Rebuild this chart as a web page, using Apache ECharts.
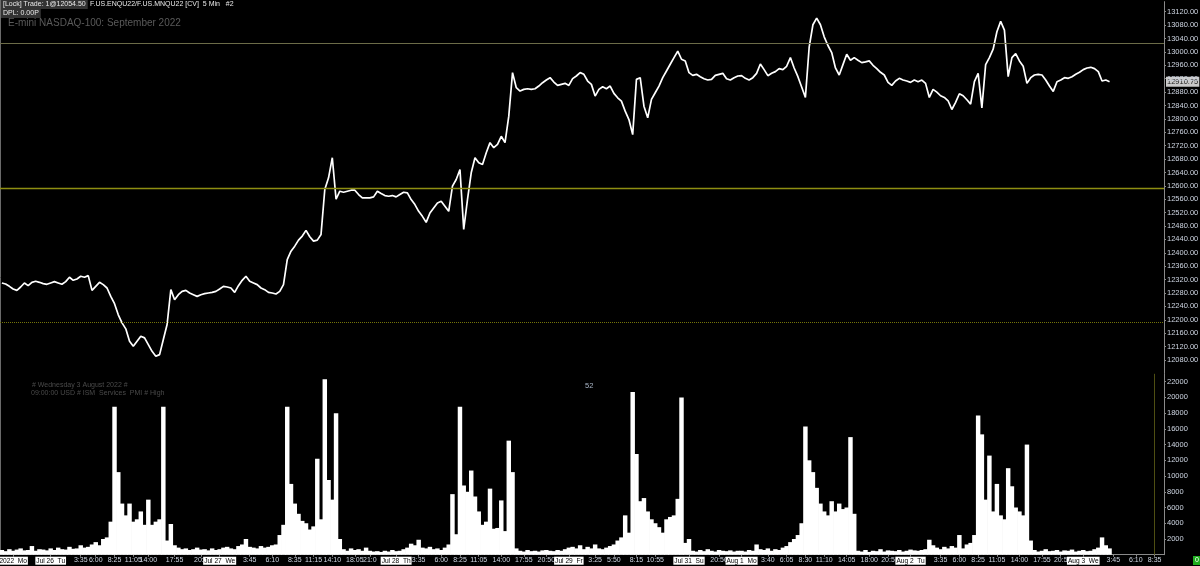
<!DOCTYPE html>
<html><head><meta charset="utf-8">
<script src="https://cdn.jsdelivr.net/npm/echarts/dist/echarts.min.js"></script>
<style>html,body{margin:0;padding:0;background:#000;}#c{width:1200px;height:566px;}</style>
</head><body><div id="c"></div>
<script>
// ---- data ----
const slotCount = 310;
const price = [
12310,12307,12300,12292,12288,12298,12310,12302,12312,12315,
12312,12308,12306,12310,12314,12310,12306,12314,12327,12318,
12322,12330,12327,12332,12288,12300,12312,12305,12295,12270,
12248,12215,12191,12173,12136,12121,12136,12151,12146,12126,
12106,12091,12096,12141,12186,12290,12260,12275,12285,12288,
12280,12275,12270,12275,12278,12280,12282,12285,12292,12300,
12298,12295,12282,12302,12318,12330,12315,12310,12305,12295,
12290,12282,12280,12277,12285,12305,12380,12405,12420,12438,
12450,12467,12448,12435,12438,12455,12589,12624,12684,12560,
12584,12581,12584,12587,12587,12574,12564,12564,12564,12567,
12584,12577,12571,12569,12571,12567,12574,12581,12579,12559,
12544,12524,12509,12491,12519,12534,12549,12554,12539,12524,
12599,12619,12649,12470,12559,12639,12684,12669,12664,12699,
12729,12714,12724,12748,12729,12808,12938,12893,12883,12888,
12890,12888,12890,12898,12908,12916,12923,12910,12900,12903,
12906,12900,12920,12928,12938,12933,12913,12903,12868,12888,
12896,12890,12898,12876,12863,12853,12823,12798,12753,12918,
12923,12838,12803,12858,12878,12898,12923,12943,12963,12983,
13002,12978,12973,12938,12930,12933,12926,12920,12916,12918,
12930,12933,12936,12920,12916,12923,12928,12929,12921,12916,
12923,12936,12964,12947,12929,12936,12941,12950,12947,12957,
12983,12952,12926,12895,12864,13014,13081,13101,13081,13045,
13019,12998,12952,12931,12962,12993,12975,12983,12975,12968,
12970,12973,12960,12950,12939,12931,12909,12900,12913,12921,
12916,12913,12909,12916,12911,12916,12906,12864,12888,12880,
12869,12864,12854,12828,12849,12875,12869,12857,12844,12911,
12936,12833,12962,12983,13008,13060,13091,13065,12926,12983,
12995,12973,12957,12906,12923,12931,12933,12931,12916,12898,
12882,12911,12916,12923,12921,12926,12933,12939,12947,12952,
12954,12950,12941,12913,12916,12911
];
const volume = [
600,450,700,500,650,800,550,600,1100,500,
700,650,550,800,600,900,700,650,1000,750,
800,1200,900,1000,1300,1600,1200,2000,2200,4200,
18800,10500,6500,5000,6500,4200,4500,5500,3800,7000,
3800,4200,4500,18800,1800,3900,1200,900,700,800,
600,700,900,650,700,550,800,600,700,900,
1000,800,700,1100,1300,2000,1000,900,800,1100,
900,1000,1200,1300,2500,3800,18800,9000,6500,5200,
4300,4000,3200,3600,12200,4500,22300,9500,7000,18000,
2000,700,500,800,600,700,500,900,500,400,
450,350,500,400,600,450,500,700,900,1400,
1200,1900,900,800,1000,700,800,600,900,1300,
7700,2600,18800,8800,8000,10700,7400,5500,3800,4200,
8400,3300,3400,6900,3000,14500,10500,800,500,400,
600,450,500,400,550,600,500,450,600,500,
700,900,1000,800,1200,700,1000,800,1300,800,
700,900,1100,1300,1800,2200,5000,2800,20700,12800,
6800,7200,5500,4500,4000,3500,2800,4500,4800,5000,
7100,20000,1500,2000,500,400,600,450,700,500,
400,600,500,450,550,400,500,500,400,600,
500,1300,700,600,800,500,700,600,900,1100,
1600,2000,2500,4000,16300,12000,10500,8500,6500,5500,
5000,6800,5500,6500,5800,6000,14950,5200,500,400,
600,350,500,450,700,400,550,500,450,600,
400,500,650,550,500,600,700,1900,1200,900,
700,1000,800,1100,900,2500,800,1300,1500,2500,
17700,15300,7000,12600,5500,9000,5000,4500,11000,8700,
6000,5500,5000,14000,1800,600,400,500,700,450,
500,600,400,550,500,650,400,500,600,450,
500,700,900,2200,1200,800
];
const tickSlots = [3,13,21,25,30,35,39,46,53,58,66,72,78,83,88,94,98,105,111,117,122,127,133,139,145,151,158,163,169,174,183,191,197,204,209,214,219,225,231,236,242,250,255,260,265,271,277,282,288,296,302,307];
const tickLabels = ['2022  Mo','Jul 26  Tu','3:35','6:00','8:25','11:05','14:00','17:55','20:5','Jul 27  We','3:45','6:10','8:35','11:15','14:10','18:05','21:0','Jul 28  Th','3:35','6:00','8:25','11:05','14:00','17:55','20:50','Jul 29  Fr','3:25','5:50','8:15','10:55','Jul 31  Su','20:50','Aug 1  Mo','3:40','6:05','8:30','11:10','14:05','18:00','20:5','Aug 2  Tu','3:35','6:00','8:25','11:05','14:00','17:55','20:5','Aug 3  We','3:45','6:10','8:35'];
const refLevels = [13026, 12594, 12194];
const nowSlot = 307;
const lastPrice = 12910.75;

// ---- chart ----
const FONT = '"Liberation Sans", Arial, sans-serif';
const AXC = '#cfd6e3';
const categories = Array.from({length: slotCount}, (_, i) => String(i));
const labelMap = {};
tickSlots.forEach((s, k) => { labelMap[s] = tickLabels[k]; });
const hasLabel = (idx) => labelMap[idx] !== undefined;

const chart = echarts.init(document.getElementById('c'), null, {renderer: 'canvas'});
const refStyles = [
  {color: '#6c6c48', width: 1, type: 'solid'},
  {color: '#8e8e12', width: 1.3, type: 'solid'},
  {color: '#74740a', width: 1, type: 'dotted'}
];
const option = {
  backgroundColor: '#000',
  animation: false,
  grid: [
    {left: 0, right: 36, top: 1.65, height: 371.75, outerBoundsMode: 'none', containLabel: false},
    {left: 0, right: 36, top: 373.8, bottom: 11.3, outerBoundsMode: 'none', containLabel: false}
  ],
  xAxis: [
    {type: 'category', gridIndex: 0, data: categories, show: false, boundaryGap: true},
    {type: 'category', gridIndex: 1, data: categories, boundaryGap: true, position: 'bottom',
      axisLine: {show: true, lineStyle: {color: '#8a8a8a', width: 1}},
      axisTick: {show: true, interval: (i) => hasLabel(i), alignWithLabel: true, length: 2, lineStyle: {color: '#8a8a8a'}},
      axisLabel: {
        show: true, interval: (i) => hasLabel(i), margin: 2, hideOverlap: false,
        color: AXC, fontSize: 7, fontFamily: FONT,
        formatter: (v, i) => {
          const t = labelMap[i];
          if (t === undefined) return '';
          return /[A-Za-z]/.test(t) ? '{d|' + t + '}' : t;
        },
        rich: {d: {backgroundColor: '#ffffff', color: '#000000', padding: [1, 1, 0, 1], fontSize: 6.6, fontFamily: FONT}}
      },
      splitLine: {show: false}
    }
  ],
  yAxis: [
    {type: 'value', gridIndex: 0, position: 'right', min: 12040, max: 13150, interval: 40,
      axisLine: {show: true, lineStyle: {color: '#8a8a8a', width: 1}},
      axisTick: {show: true, length: 2, lineStyle: {color: '#8a8a8a'}},
      axisLabel: {color: AXC, fontSize: 7.5, fontFamily: FONT, margin: 3, showMinLabel: false, showMaxLabel: false, hideOverlap: false,
        formatter: (v) => v.toFixed(2)},
      splitLine: {show: false}
    },
    {type: 'value', gridIndex: 1, position: 'right', min: 0, max: 23000, interval: 2000,
      axisLine: {show: true, lineStyle: {color: '#8a8a8a', width: 1}},
      axisTick: {show: true, length: 2, lineStyle: {color: '#8a8a8a'}},
      axisLabel: {color: AXC, fontSize: 7.5, fontFamily: FONT, margin: 3, showMinLabel: false, showMaxLabel: false, hideOverlap: false,
        formatter: (v) => String(v)},
      splitLine: {show: false}
    }
  ],
  series: [
    {type: 'line', xAxisIndex: 0, yAxisIndex: 0, data: price, symbol: 'none',
      lineStyle: {color: '#ffffff', width: 1.7}, silent: true,
      markLine: {silent: true, symbol: ['none', 'none'], label: {show: false},
        data: refLevels.map((v, k) => ({yAxis: v, lineStyle: refStyles[k]}))}
    },
    {type: 'custom', xAxisIndex: 1, yAxisIndex: 1, silent: true,
      data: volume.map((v, i) => [i, v]),
      encode: {x: 0, y: 1},
      renderItem: (params, api) => {
        const i = api.value(0), v = api.value(1);
        const top = api.coord([i, v]);
        const base = api.coord([i, 0]);
        const w = api.size([1, 0])[0];
        return {type: 'rect',
          shape: {x: top[0] - w / 2 - 0.35, y: top[1], width: w + 0.7, height: base[1] - top[1]},
          style: {fill: '#ffffff'}};
      },
      markLine: {silent: true, symbol: ['none', 'none'], label: {show: false},
        data: [{xAxis: String(nowSlot), lineStyle: {color: '#4e4e12', width: 1, type: 'solid'}}]}
    }
  ]
};
chart.setOption(option);

const py = chart.convertToPixel({yAxisIndex: 0}, lastPrice);
chart.setOption({
  graphic: [
    {type: 'line', shape: {x1: 0.5, y1: 0, x2: 0.5, y2: 555}, style: {stroke: '#6a6a6a', lineWidth: 1}},
    {type: 'text', x: 1, y: 0, style: {text: '[Lock] Trade: 1@12054.50', fill: '#e8e8e8', font: '7px ' + FONT, backgroundColor: '#333333', padding: [1, 2, 1, 2]}},
    {type: 'text', x: 90, y: 1, style: {text: 'F.US.ENQU22/F.US.MNQU22 [CV]  5 Min   #2', fill: '#e8e8e8', font: '7px ' + FONT}},
    {type: 'text', x: 1, y: 9, style: {text: 'DPL: 0.00P', fill: '#e8e8e8', font: '7px ' + FONT, backgroundColor: '#333333', padding: [1, 2, 1, 2]}},
    {type: 'text', x: 8, y: 18.5, style: {text: 'E-mini NASDAQ-100: September 2022', fill: '#5a5a5a', font: '10px ' + FONT}},
    {type: 'text', x: 32, y: 382, style: {text: '# Wednesday 3 August 2022 #', fill: '#4a4a4a', font: '7px ' + FONT}},
    {type: 'text', x: 31, y: 390, style: {text: '09:00:00 USD # ISM  Services  PMI # High', fill: '#4a4a4a', font: '7px ' + FONT}},
    {type: 'text', x: 585, y: 382, style: {text: '52', fill: '#a9b6c8', font: '7.5px ' + FONT}},
    {type: 'text', x: 1166, y: py - 5, style: {text: lastPrice.toFixed(2), fill: '#1a1a1a', font: '7.5px ' + FONT, backgroundColor: '#c9c9c9', padding: [1, 1, 1, 1]}},
    {type: 'text', x: 1193, y: 556, style: {text: '0', fill: '#ffffff', font: '7px ' + FONT, backgroundColor: '#1fae1f', padding: [1, 2, 1, 2]}}
  ]
});
</script>
</body></html>
